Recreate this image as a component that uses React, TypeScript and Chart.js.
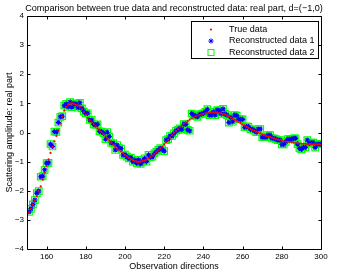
import React, { useEffect, useRef } from 'react';
import { Chart, registerables } from 'chart.js';

Chart.register(...registerables);

const titleText = 'Comparison between true data and reconstructed data: real part, d=(\u22121,0)';
const xLabel = 'Observation directions';
const yLabel = 'Scattering amplitude: real part';
const legendLabels = ['True data', 'Reconstructed data 1', 'Reconstructed data 2'];

const xTicks = [160, 180, 200, 220, 240, 260, 280, 300];
const yTicks = [-4, -3, -2, -1, 0, 1, 2, 3, 4];

const directions = [
  151, 152, 153, 154, 155, 156, 157, 158, 159, 160,
  161, 162, 163, 164, 165, 166, 167, 168, 169, 170,
  171, 172, 173, 174, 175, 176, 177, 178, 179, 180,
  181, 182, 183, 184, 185, 186, 187, 188, 189, 190,
  191, 192, 193, 194, 195, 196, 197, 198, 199, 200,
  201, 202, 203, 204, 205, 206, 207, 208, 209, 210,
  211, 212, 213, 214, 215, 216, 217, 218, 219, 220,
  221, 222, 223, 224, 225, 226, 227, 228, 229, 230,
  231, 232, 233, 234, 235, 236, 237, 238, 239, 240,
  241, 242, 243, 244, 245, 246, 247, 248, 249, 250,
  251, 252, 253, 254, 255, 256, 257, 258, 259, 260,
  261, 262, 263, 264, 265, 266, 267, 268, 269, 270,
  271, 272, 273, 274, 275, 276, 277, 278, 279, 280,
  281, 282, 283, 284, 285, 286, 287, 288, 289, 290,
  291, 292, 293, 294, 295, 296, 297, 298, 299, 300,
];

const trueValues = [
  -2.75, -2.62, -2.48, -2.33, -2.18, -2.02, -1.85, -1.62, -1.38, -1.15,
  -0.92, -0.7, -0.5, -0.3, -0.12, 0.08, 0.3, 0.55, 0.75, 0.88,
  0.96, 1.0, 1.0, 0.98, 0.95, 0.92, 0.88, 0.8, 0.7, 0.6,
  0.5, 0.42, 0.35, 0.28, 0.2, 0.13, 0.07, 0.02, -0.05, -0.12,
  -0.2, -0.28, -0.35, -0.42, -0.49, -0.55, -0.6, -0.65, -0.71, -0.77,
  -0.82, -0.87, -0.91, -0.95, -0.98, -1.0, -1.01, -1.0, -0.98, -0.96,
  -0.93, -0.89, -0.84, -0.79, -0.73, -0.67, -0.61, -0.55, -0.48, -0.41,
  -0.33, -0.25, -0.17, -0.09, -0.02, 0.05, 0.12, 0.18, 0.24, 0.3,
  0.35, 0.4, 0.44, 0.48, 0.52, 0.55, 0.58, 0.6, 0.62, 0.64,
  0.66, 0.67, 0.68, 0.69, 0.69, 0.69, 0.68, 0.67, 0.66, 0.64,
  0.62, 0.59, 0.56, 0.52, 0.48, 0.44, 0.4, 0.36, 0.32, 0.28,
  0.24, 0.2, 0.16, 0.12, 0.09, 0.06, 0.03, 0.0, -0.03, -0.06,
  -0.09, -0.12, -0.14, -0.16, -0.18, -0.2, -0.22, -0.24, -0.26, -0.28,
  -0.3, -0.31, -0.32, -0.33, -0.34, -0.35, -0.36, -0.37, -0.38, -0.38,
  -0.39, -0.39, -0.4, -0.4, -0.4, -0.41, -0.41, -0.41, -0.41, -0.41,
];

const recon1Values = [
  -2.73, -2.62, -2.47, -2.32, -2.08, -2.01, -1.52, -1.5, -1.28, -1.05,
  -1.04, -0.4, -0.48, 0.03, 0.02, 0.34, 0.54, 0.56, 0.92, 0.98,
  0.88, 1.04, 0.87, 1.0, 0.98, 0.85, 1.02, 0.83, 0.72, 0.66,
  0.66, 0.43, 0.43, 0.28, 0.26, 0.28, 0.04, 0.03, -0.02, -0.23,
  0.01, -0.14, -0.36, -0.37, -0.6, -0.43, -0.54, -0.55, -0.77, -0.76,
  -0.83, -0.89, -0.86, -1.0, -0.95, -1.06, -0.94, -1.08, -1.0, -0.89,
  -1.0, -0.77, -0.85, -0.83, -0.72, -0.66, -0.6, -0.54, -0.58, -0.64,
  -0.26, -0.23, -0.12, -0.12, -0.03, 0.06, 0.09, 0.14, 0.11, 0.29,
  0.28, 0.09, 0.06, 0.65, 0.6, 0.57, 0.54, 0.62, 0.64, 0.66,
  0.71, 0.8, 0.6, 0.6, 0.71, 0.6, 0.77, 0.75, 0.64, 0.81,
  0.64, 0.6, 0.34, 0.52, 0.37, 0.6, 0.58, 0.46, 0.45, 0.45,
  0.18, 0.2, 0.2, 0.11, 0.11, 0.06, 0.01, 0.12, 0.12, -0.16,
  -0.16, -0.16, -0.09, -0.09, -0.2, -0.2, -0.23, -0.26, -0.26, -0.41,
  -0.41, -0.32, -0.23, -0.23, -0.23, -0.2, -0.2, -0.4, -0.55, -0.58,
  -0.51, -0.51, -0.26, -0.37, -0.35, -0.35, -0.52, -0.4, -0.4, -0.4,
];

// Reconstruction 2 coincides with reconstruction 1 in the picture.
const recon2Values = [...recon1Values];

const FONT = '"Liberation Sans", Arial, Helvetica, sans-serif';
const RED = '#ff0000';
const BLUE = '#0000ff';
const GREEN = '#00ff00';

const framePlugin = {
  id: 'matlabFrame',
  afterDraw(chart: any) {
    const { ctx, chartArea: a, scales } = chart;
    const xs = scales.x;
    const ys = scales.y;
    const L = Math.round(a.left) + 0.5;
    const R = Math.round(a.right) + 0.5;
    const T = Math.round(a.top) + 0.5;
    const B = Math.round(a.bottom) + 0.5;
    const tl = 3;
    ctx.save();
    ctx.strokeStyle = '#000';
    ctx.lineWidth = 1;
    ctx.beginPath();
    ctx.rect(L, T, R - L, B - T);
    xTicks.forEach((v) => {
      const px = Math.round(xs.getPixelForValue(v)) + 0.5;
      ctx.moveTo(px, B);
      ctx.lineTo(px, B - tl);
      ctx.moveTo(px, T);
      ctx.lineTo(px, T + tl);
    });
    yTicks.forEach((v) => {
      const py = Math.round(ys.getPixelForValue(v)) + 0.5;
      ctx.moveTo(L, py);
      ctx.lineTo(L + tl, py);
      ctx.moveTo(R, py);
      ctx.lineTo(R - tl, py);
    });
    ctx.stroke();

    // title, centred over the plot box like MATLAB
    ctx.fillStyle = '#000';
    ctx.font = `9.1px ${FONT}`;
    ctx.textAlign = 'center';
    ctx.textBaseline = 'middle';
    ctx.fillText(titleText, (a.left + a.right) / 2, 8.5);

    // legend box
    const bx = 191.5, by = 21.5, bw = 127, bh = 37;
    ctx.fillStyle = '#fff';
    ctx.fillRect(bx, by, bw, bh);
    ctx.strokeRect(bx, by, bw, bh);
    const rows = [29.5, 41, 52.5];
    const mx = 211;
    ctx.fillStyle = RED;
    ctx.beginPath();
    ctx.arc(mx, rows[0], 1.1, 0, Math.PI * 2);
    ctx.fill();
    ctx.strokeStyle = BLUE;
    ctx.lineWidth = 1;
    ctx.beginPath();
    const r = 2.6;
    for (let k = 0; k < 4; k++) {
      const ang = (k * Math.PI) / 4;
      ctx.moveTo(mx + Math.cos(ang) * r, rows[1] + Math.sin(ang) * r);
      ctx.lineTo(mx - Math.cos(ang) * r, rows[1] - Math.sin(ang) * r);
    }
    ctx.stroke();
    ctx.strokeStyle = GREEN;
    ctx.strokeRect(mx - 3, rows[2] - 3, 6, 6);

    ctx.fillStyle = '#000';
    ctx.font = `9px ${FONT}`;
    ctx.textBaseline = 'middle';
    ctx.textAlign = 'left';
    legendLabels.forEach((t, i) => ctx.fillText(t, 229, rows[i]));
    ctx.restore();
  },
};

export default function App() {
  const ref = useRef<HTMLCanvasElement | null>(null);
  useEffect(() => {
    document.body.style.margin = '0';
    const canvas = ref.current;
    if (!canvas) return;
    const toPts = (vals: number[]) => directions.map((x, i) => ({ x, y: vals[i] }));
    const chart = new Chart(canvas, {
      type: 'scatter',
      data: {
        datasets: [
          {
            label: legendLabels[0],
            data: toPts(trueValues),
            pointStyle: 'circle',
            pointRadius: 1.1,
            pointBackgroundColor: RED,
            pointBorderWidth: 0,
            borderColor: RED,
            backgroundColor: RED,
          },
          {
            label: legendLabels[1],
            data: toPts(recon1Values),
            pointStyle: 'star',
            pointRadius: 2.6,
            pointBorderWidth: 1.1,
            pointBorderColor: BLUE,
            borderColor: BLUE,
            backgroundColor: BLUE,
          },
          {
            label: legendLabels[2],
            data: toPts(recon2Values),
            pointStyle: 'rect',
            pointRadius: 4.6,
            pointBorderWidth: 1.2,
            pointBorderColor: GREEN,
            pointBackgroundColor: 'rgba(0,0,0,0)',
            borderColor: GREEN,
            backgroundColor: 'rgba(0,0,0,0)',
          },
        ],
      },
      options: {
        responsive: false,
        animation: false,
        events: [],
        layout: { padding: { left: 0, right: 25, top: 16, bottom: 0 } },
        plugins: {
          legend: { display: false },
          tooltip: { enabled: false },
          title: { display: false },
        },
        scales: {
          x: {
            type: 'linear',
            min: 150,
            max: 300,
            afterBuildTicks: (s: any) => {
              s.ticks = xTicks.map((v) => ({ value: v }));
            },
            afterFit: (s: any) => {
              s.height = 26;
            },
            grid: { display: false, drawTicks: false },
            border: { display: false },
            ticks: {
              color: '#000',
              font: { family: FONT, size: 8 },
              padding: 3,
              maxRotation: 0,
              autoSkip: false,
            },
            title: {
              display: true,
              text: xLabel,
              color: '#000',
              font: { family: FONT, size: 9, lineHeight: 1.2 },
              padding: { top: 0, bottom: 3 },
            },
          },
          y: {
            type: 'linear',
            min: -4,
            max: 4,
            afterBuildTicks: (s: any) => {
              s.ticks = yTicks.map((v) => ({ value: v }));
            },
            afterFit: (s: any) => {
              s.width = 27;
            },
            grid: { display: false, drawTicks: false },
            border: { display: false },
            ticks: {
              color: '#000',
              font: { family: FONT, size: 8 },
              padding: 3,
              autoSkip: false,
              callback: (v: any) => String(v).replace('-', '\u2212'),
            },
            title: {
              display: true,
              text: yLabel,
              color: '#000',
              font: { family: FONT, size: 9, lineHeight: 1.2 },
              padding: { top: 4, bottom: 0 },
            },
          },
        },
      },
      plugins: [framePlugin],
    });
    return () => chart.destroy();
  }, []);
  return <canvas ref={ref} width={346} height={275} style={{ display: 'block', width: 346, height: 275 }} />;
}
